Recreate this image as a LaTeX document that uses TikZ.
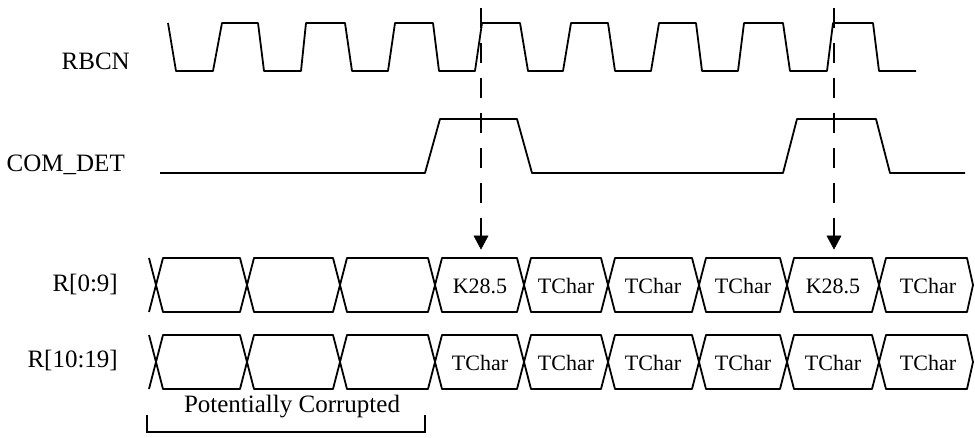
\documentclass[tikz,border=0pt]{standalone}
\usepackage{fontspec}
\setmainfont{Liberation Serif}
\begin{document}
\begin{tikzpicture}[x=1pt,y=-1pt,
  wave/.style={line width=1.8pt, line join=round},
  bus/.style={line width=1.8pt, line join=round},
  guide/.style={line width=1.8pt, dash pattern=on 20pt off 15pt},
  lbl/.style={anchor=base east, inner sep=0pt, font=\fontsize{25}{30}\selectfont},
  boxtxt/.style={anchor=center, inner sep=0pt, font=\fontsize{22}{26}\selectfont},
  tip/.style={fill=black, draw=black, line width=0.5pt}]
\useasboundingbox (0,0) rectangle (975,438);

% labels
\node[lbl] (lrbcn) at (130,70) {RBCN};
\node[lbl] (lcom) at (125,172) {COM\_DET};
\node[lbl] (lr09) at (118,292) {R[0:9]};
\node[lbl] (lr1019) at (118,368) {R[10:19]};

% RBCN clock
\draw[wave] (168,23) -- (176,71) -- (213,71) -- (222,23) -- (258,23) -- (264,71)
  -- (301,71) -- (306,23) -- (345,23) -- (352,71) -- (388,71) -- (395,23)
  -- (433,23) -- (439,71) -- (475,71) -- (482,23) -- (520,23) -- (528,71)
  -- (563,71) -- (571,23) -- (608,23) -- (615,71) -- (651,71) -- (659,23)
  -- (696,23) -- (702,71) -- (738,71) -- (744,23) -- (783,23) -- (790,71)
  -- (827,71) -- (833,23) -- (873,23) -- (879,71) -- (916,71);

% COM_DET
\draw[wave] (160,173) -- (425,173) -- (440,119) -- (517,119) -- (532,173)
  -- (783,173) -- (797,119) -- (876,119) -- (890,173) -- (965,173);

% dashed guides with arrowheads
\coordinate (g1top) at (481,8);
\coordinate (g1end) at (481,236);
\coordinate (g2top) at (834,8);
\coordinate (g2end) at (834,236);
\draw[guide] (g1top) -- (g1end);
\draw[guide] (g2top) -- (g2end);
\fill[tip] (474,236) -- (488,236) -- (481,249) -- cycle;
\fill[tip] (827,236) -- (841,236) -- (834,249) -- cycle;

% buses
\def\dd{7}
\foreach \ty/\by/\my in {258/312/285, 335/389/362}{
  % left start
  \draw[bus] (149,\ty) -- (156,\my) -- (149,\by);
  \foreach \a/\b in {156/247, 247/340, 340/435, 435/524, 524/608, 608/699, 699/787, 787/879}{
    \draw[bus] (\a,\my) -- (\a+\dd,\ty) -- (\b-\dd,\ty) -- (\b,\my) -- (\b-\dd,\by) -- (\a+\dd,\by) -- cycle;
  }
  \draw[bus] (973,\my) -- (967,\ty) -- (886,\ty) -- (879,\my) -- (886,\by) -- (967,\by) -- cycle;
}

% bus texts
\node[boxtxt] (a4) at (480,286) {K28.5};
\node[boxtxt] (a5) at (566,286) {TChar};
\node[boxtxt] (a6) at (653,286) {TChar};
\node[boxtxt] (a7) at (743,286) {TChar};
\node[boxtxt] (a8) at (833,286) {K28.5};
\node[boxtxt] (a9) at (928,286) {TChar};
\node[boxtxt] (b4) at (480,363) {TChar};
\node[boxtxt] (b5) at (566,363) {TChar};
\node[boxtxt] (b6) at (653,363) {TChar};
\node[boxtxt] (b7) at (743,363) {TChar};
\node[boxtxt] (b8) at (833,363) {TChar};
\node[boxtxt] (b9) at (928,363) {TChar};

% potentially corrupted bracket
\node[anchor=base, inner sep=0pt, font=\fontsize{25}{30}\selectfont] (pc) at (292,413) {Potentially Corrupted};
\coordinate (bl) at (147,432);
\coordinate (br) at (425,432);
\draw[line width=1.5pt] (147,415) -- (bl) -- (br) -- (425,415);
\end{tikzpicture}
\end{document}
